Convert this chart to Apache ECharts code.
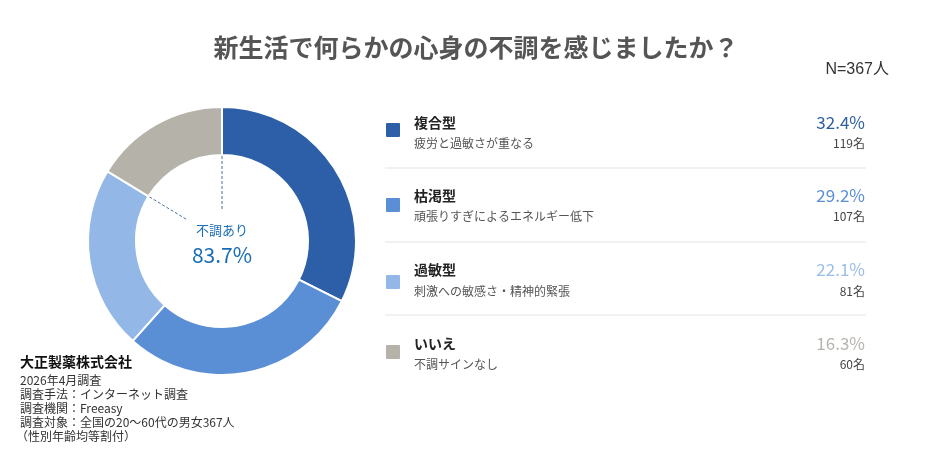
<!DOCTYPE html>
<html><head><meta charset="utf-8">
<script src="https://cdn.jsdelivr.net/npm/echarts@6/dist/echarts.min.js"></script>
<style>html,body{margin:0;padding:0;background:#fff}#c{width:932px;height:461px}</style>
</head><body><div id="c"></div>
<script>
const categories = ['複合型', '枯渇型', '過敏型', 'いいえ'];
const descriptions = ['疲労と過敏さが重なる', '頑張りすぎによるエネルギー低下', '刺激への敏感さ・精神的緊張', '不調サインなし'];
const percents = [32.4, 29.2, 22.1, 16.3];
const counts = [119, 107, 81, 60];
const colors = ['#2C5FA7', '#5B8FD5', '#93B7E7', '#B5B2AA'];
const pctColors = ['#2E5F9F', '#5A8ED5', '#9BBDE9', '#B7B4AD'];
const titleText = '新生活で何らかの心身の不調を感じましたか？';
const nText = 'N=367人';
const centerLabel = '不調あり';
const sourceLines = ['2026年4月調査', '調査手法：インターネット調査', '調査機関：Freeasy', '調査対象：全国の20〜60代の男女367人', '（性別年齢均等割付）'];
const company = '大正製薬株式会社';

const FONT = '"Noto Sans CJK JP", "Noto Sans", sans-serif';
const chart = echarts.init(document.getElementById('c'));

const cx = 222, cy = 241, rIn = 86, rOut = 134;
const unwell = percents.slice(0, 3).reduce((a, b) => a + b, 0);

const graphic = [];
// legend rows
const nameY = [123, 196, 270, 344];
const descY = [143, 216, 291, 364];
const pctY = [123, 196, 270, 344];
const sqY = [130, 205, 282, 352];
categories.forEach((c, i) => {
  graphic.push({ type: 'rect', shape: { x: 386, y: sqY[i] - 7, width: 14, height: 14, r: 1 }, style: { fill: colors[i] } });
  graphic.push({ type: 'text', x: 414, y: nameY[i], style: { text: c, font: 'bold 14px ' + FONT, fill: '#222', textVerticalAlign: 'middle' } });
  graphic.push({ type: 'text', x: 414, y: descY[i], style: { text: descriptions[i], font: '12px ' + FONT, fill: '#555', textVerticalAlign: 'middle' } });
  graphic.push({ type: 'text', x: 865, y: pctY[i], style: { text: percents[i].toFixed(1) + '%', font: '17px ' + FONT, fill: pctColors[i], textAlign: 'right', textVerticalAlign: 'middle' } });
  graphic.push({ type: 'text', x: 865, y: descY[i], style: { text: counts[i] + '名', font: '12px ' + FONT, fill: '#444', textAlign: 'right', textVerticalAlign: 'middle' } });
});
[168, 242, 315].forEach(y => {
  graphic.push({ type: 'line', shape: { x1: 385, y1: y, x2: 866, y2: y }, style: { stroke: '#E3E3E3', lineWidth: 1 } });
});
// dashed lines in donut hole, derived from data angles
const angTop = Math.PI / 2;
const angGray = Math.PI / 2 + 2 * Math.PI * percents[3] / 100;
function pt(a, r) { return [cx + r * Math.cos(a), cy - r * Math.sin(a)]; }
const a1 = pt(angTop, rIn - 1), a2 = pt(angTop, 30);
const b1 = pt(angGray, rIn - 1), b2 = pt(angGray, 42);
graphic.push({ type: 'line', shape: { x1: a1[0], y1: a1[1], x2: a2[0], y2: a2[1] }, style: { stroke: '#4A6FA0', lineWidth: 1, lineDash: [3, 2] } });
graphic.push({ type: 'line', shape: { x1: b1[0], y1: b1[1], x2: b2[0], y2: b2[1] }, style: { stroke: '#4A6FA0', lineWidth: 1, lineDash: [3, 2] } });
// center text
graphic.push({ type: 'text', x: cx, y: 230, style: { text: centerLabel, font: '13px ' + FONT, fill: '#1A6DB5', textAlign: 'center', textVerticalAlign: 'middle' } });
graphic.push({ type: 'text', x: cx, y: 255, style: { text: unwell.toFixed(1) + '%', font: '21px ' + FONT, fill: '#1A6DB5', textAlign: 'center', textVerticalAlign: 'middle' } });
// N
graphic.push({ type: 'text', x: 889, y: 70, style: { text: nText, font: '16px "Liberation Sans", Arial, ' + FONT, fill: '#333', textAlign: 'right', textVerticalAlign: 'middle' } });
// source block
graphic.push({ type: 'text', x: 20, y: 362, style: { text: company, font: 'bold 14px ' + FONT, fill: '#111', textVerticalAlign: 'middle' } });
sourceLines.forEach((t, i) => {
  graphic.push({ type: 'text', x: i === 4 ? 16 : 20, y: 380 + i * 14, style: { text: t, font: '12px ' + FONT, fill: '#333', textVerticalAlign: 'middle' } });
});

chart.setOption({
  animation: false,
  backgroundColor: '#fff',
  title: { text: titleText, left: 471, top: 42, textAlign: 'center', textVerticalAlign: 'middle',
    textStyle: { fontFamily: FONT, fontSize: 25, fontWeight: 'bold', color: '#555' } },
  series: [{
    type: 'pie', center: [cx, cy], radius: [rIn, rOut], startAngle: 90, clockwise: true,
    avoidLabelOverlap: false, label: { show: false }, labelLine: { show: false },
    itemStyle: { borderColor: '#fff', borderWidth: 2 },
    emphasis: { disabled: true },
    data: categories.map((c, i) => ({ name: c, value: percents[i], itemStyle: { color: colors[i] } }))
  }],
  graphic: graphic
});
</script></body></html>
